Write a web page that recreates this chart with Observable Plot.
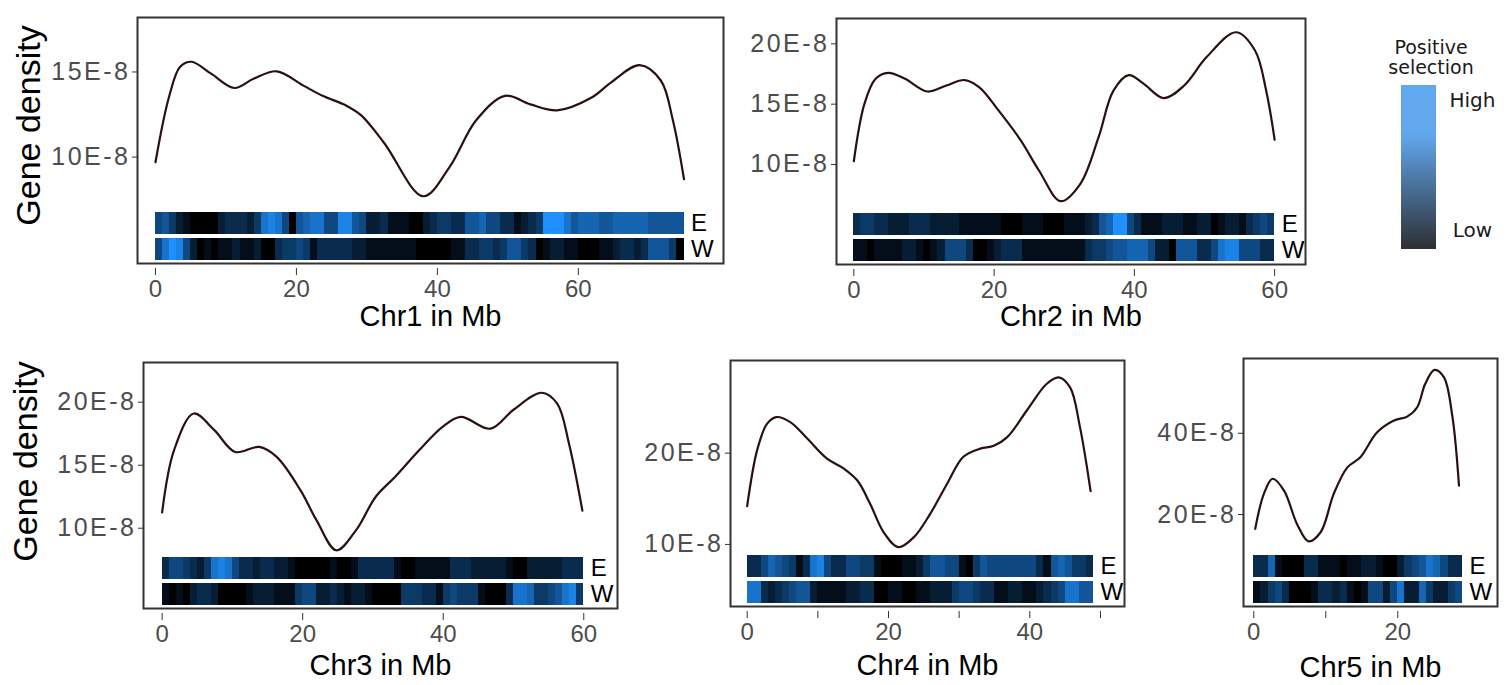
<!DOCTYPE html>
<html>
<head>
<meta charset="utf-8">
<script src="https://cdn.jsdelivr.net/npm/d3@7"></script>
<script src="https://cdn.jsdelivr.net/npm/@observablehq/plot@0.6"></script>
<style>
  body { margin: 0; background: #fff; }
  #root { position: relative; width: 1511px; height: 685px; overflow: hidden; background: #fff; }
  .panel { position: absolute; }
  .legend-line { position: absolute; font-family: "DejaVu Sans", sans-serif; font-size: 19px; line-height: 20px; height: 20px; text-align: center; color: #1a1a1a; white-space: nowrap; }
</style>
</head>
<body>
<div id="root"></div>
<script>
// ---------------- data (gene density in units of 1E-8, positions in Mb) ----------------
const chr1Pos = [0, 1.9, 3.5, 5.1, 7.9, 11.2, 13.9, 17.2, 21, 23.7, 27, 29.2, 32.5, 38, 41.7, 45.5, 49.6, 53.2, 57, 61.9, 64.7, 68.7, 71.7, 73.4, 75];
const chr1Density = [9.7, 13.5, 15.3, 15.6, 14.9, 14.06, 14.6, 15.04, 14.2, 13.6, 13.04, 12.45, 10.8, 7.7, 9.4, 12.16, 13.6, 13.1, 12.75, 13.5, 14.4, 15.4, 14.5, 12.2, 8.7];

const chr2Pos = [0, 1.5, 3.1, 4.9, 7.3, 10.5, 13.2, 15.8, 17.9, 20.6, 23.8, 26.4, 29.5, 32.3, 34.9, 37.0, 39.2, 41.3, 44.2, 47.1, 50.3, 54.5, 57.2, 58.8, 60];
const chr2Density = [10.27, 15.0, 17.1, 17.6, 17.1, 16.05, 16.55, 17.0, 16.4, 14.5, 12.0, 9.5, 6.96, 8.4, 12.26, 16.1, 17.4, 16.7, 15.5, 16.55, 18.9, 20.96, 19.45, 16.1, 12.05];

const chr3Pos = [0, 1.7, 4.5, 7.4, 10.4, 13.8, 16.3, 19.7, 22, 24.8, 27.6, 30.4, 33.2, 36.6, 39.9, 42.5, 46.7, 50, 54, 56.2, 57.9, 59.8];
const chr3Density = [11.25, 16.2, 19.1, 17.8, 16.05, 16.45, 15.66, 13.0, 10.6, 8.25, 9.85, 12.5, 14.1, 16.2, 18.05, 18.83, 17.9, 19.4, 20.75, 19.9, 16.7, 11.4];

const chr4Pos = [0, 1.4, 2.8, 4.1, 6.1, 8.5, 11.3, 13.7, 15.6, 17.4, 19.3, 21.4, 23.6, 25.9, 28.3, 30.6, 33, 34.9, 36.8, 39.6, 42.4, 44.1, 45.7, 47.1, 48.6];
const chr4Density = [14.2, 20.3, 23.2, 23.95, 23.4, 21.6, 19.4, 18.3, 17.0, 14.45, 11.35, 9.7, 10.8, 13.35, 16.65, 19.6, 20.5, 20.8, 21.75, 24.7, 27.6, 28.3, 27.2, 22.85, 15.85];

const chr5Pos = [0.2, 1.4, 2.6, 4.2, 6.0, 7.6, 9.3, 11.1, 13.0, 14.8, 17.1, 19.4, 21.3, 22.7, 23.8, 25.1, 26.4, 27.6, 28.5];
const chr5Density = [16.5, 25.1, 28.8, 25.9, 17.7, 13.4, 15.7, 25.1, 31.6, 34.1, 40.2, 43.1, 44.1, 46.4, 52.1, 55.6, 53.8, 43.9, 27.1];

// positive selection per 1-Mb bin (0 = low, 10 = high), E and W populations
const chr1E = [5,6,4,2,1,0,0,0,0,2,3,3,3,2,4,8,9,8,5,0,6,7,8,8,5,5,9,9,6,5,2,2,3,1,1,1,0,
               0,2,3,4,4,3,3,6,6,7,5,5,3,3,1,2,3,4,10,10,10,8,6,7,7,7,6,6,7,7,7,7,7,6,6,6,6,6];
const chr1W = [5,8,10,9,5,2,0,1,0,1,1,2,1,1,2,0,0,3,4,4,5,4,1,3,3,3,3,3,2,2,1,1,1,1,1,1,1,
               0,0,0,0,0,1,1,3,3,4,4,3,4,6,6,4,3,0,1,2,2,1,1,0,0,0,1,1,2,3,3,2,3,6,6,6,4,0];
const chr2E = [3,4,4,3,3,2,2,2,3,3,3,2,2,2,2,1,1,1,1,1,1,0,0,0,1,1,1,0,0,0,1,1,1,2,3,6,7,10,10,5,3,1,1,1,2,2,2,1,1,2,2,0,1,2,2,1,3,4,5,4];
const chr2W = [1,1,0,1,1,1,1,2,2,1,0,1,2,5,5,5,3,0,0,1,2,3,3,3,1,1,1,1,1,1,1,1,1,3,4,4,5,6,6,7,7,7,5,2,2,0,6,6,6,3,3,5,8,9,9,5,5,5,3,3];
const chr3E = [3,5,5,4,3,2,4,8,9,8,5,3,3,2,3,3,2,2,1,0,0,0,0,0,1,0,0,1,3,3,3,3,3,1,0,0,1,1,1,1,1,3,3,3,2,2,2,2,2,1,0,0,2,2,2,2,2,3,3,3];
const chr3W = [1,0,1,0,2,3,3,2,0,0,0,0,1,2,2,2,1,1,1,4,5,5,2,2,3,2,1,2,2,1,0,0,0,0,4,4,4,3,3,1,4,5,4,4,4,1,0,0,0,3,8,8,7,4,4,5,6,8,9,4];
const chr4E = [3,3,5,7,6,5,4,1,3,8,9,5,3,3,5,5,4,4,1,0,0,0,1,1,2,4,6,6,5,5,1,0,4,6,5,5,5,5,5,5,5,3,1,6,7,6,4,4,3];
const chr4W = [8,8,3,2,3,4,5,6,6,2,1,1,1,1,2,2,3,3,0,0,1,1,0,0,1,1,2,2,2,4,5,5,4,3,3,1,1,2,2,1,1,2,3,4,5,8,8,6,6];
const chr5E = [3,3,7,1,0,0,0,3,3,1,1,1,0,1,1,2,2,1,0,0,2,4,5,6,8,7,5,3,3];
const chr5W = [1,2,4,5,3,0,0,0,1,3,3,2,3,1,0,1,5,5,2,5,8,2,2,7,4,2,2,4,5];

const chromosomes = ["Chr1", "Chr2", "Chr3", "Chr4", "Chr5"];
const stripNames = ["E", "W"];
const legendTitle = ["Positive", "selection"];
const legendLabels = [{label: "High", at: 0.909}, {label: "Low", at: 0.116}];

// ---------------- layout ----------------
const FONT = '"Liberation Sans", Arial, Helvetica, sans-serif';
const selectionColor = {type: "linear", domain: [0, 10], range: ["#000000", "#1e90ff"]};

const panels = [
  {name: chromosomes[0], pos: chr1Pos, dens: chr1Density, E: chr1E, W: chr1W,
   frame: [137, 17, 723, 263], xDomain: [-2.55, 80.6], yDomain: [3.75, 18.2],
   xTicks: [0, 20, 40, 60], yTicks: [10, 15], yLabel: true, labelX: 29, labelY: 125, titleY: 316},
  {name: chromosomes[1], pos: chr2Pos, dens: chr2Density, E: chr2E, W: chr2W,
   frame: [836, 18, 1305, 264], xDomain: [-2.47, 64.4], yDomain: [1.71, 22.1],
   xTicks: [0, 20, 40, 60], yTicks: [10, 15, 20], yLabel: false, titleY: 316},
  {name: chromosomes[2], pos: chr3Pos, dens: chr3Density, E: chr3E, W: chr3W,
   frame: [143, 362, 617, 608], xDomain: [-2.65, 64.8], yDomain: [3.63, 23.15],
   xTicks: [0, 20, 40, 60], yTicks: [10, 15, 20], yLabel: true, labelX: 26, labelY: 461, titleY: 665},
  {name: chromosomes[3], pos: chr4Pos, dens: chr4Density, E: chr4E, W: chr4W,
   frame: [730, 360, 1124, 606], xDomain: [-2.36, 53.4], yDomain: [3.2, 30.15],
   xTicks: [0, 10, 20, 30, 40, 50], yTicks: [10, 20], yLabel: false, titleY: 665},
  {name: chromosomes[4], pos: chr5Pos, dens: chr5Density, E: chr5E, W: chr5W,
   frame: [1243, 358, 1497, 606], xDomain: [-1.43, 33.85], yDomain: [-2.63, 58.4],
   xTicks: [0, 10, 20], yTicks: [20, 40], yLabel: false, titleY: 667},
];

const root = document.getElementById("root");

function place(el, left, top) {
  const wrap = document.createElement("div");
  wrap.className = "panel";
  wrap.style.left = left + "px";
  wrap.style.top = top + "px";
  wrap.appendChild(el);
  root.appendChild(wrap);
  return wrap;
}

for (const p of panels) {
  const [fx0, fy0, fx1, fy1] = p.frame;
  const fw = fx1 - fx0, fh = fy1 - fy0;
  const mL = p.yLabel ? fx0 - 2 : 110, mR = 6, mT = 8, mB = 78;
  const [d0, d1] = p.yDomain;
  const yAt = (px) => d0 + px / fh * (d1 - d0); // pixel offset above frame bottom -> data units
  const strips = {E: [yAt(29.5), yAt(51.5)], W: [yAt(3.5), yAt(25.5)]};
  const len = p.E.length;

  const cells = [];
  for (const s of stripNames) {
    p[s].forEach((v, i) => cells.push({start: i, end: i + 1, v, lo: strips[s][0], hi: strips[s][1]}));
  }
  const curve = p.pos.map((x, i) => ({x, y: p.dens[i]}));
  const stripLabels = stripNames.map(s => ({x: len, y: (strips[s][0] + strips[s][1]) / 2, t: s}));

  const marks = [
    Plot.rect(cells, {x1: "start", x2: "end", y1: "lo", y2: "hi", fill: "v", shapeRendering: "crispEdges"}),
    Plot.line(curve, {x: "x", y: "y", curve: "catmull-rom", stroke: "#2b1010", strokeWidth: 2.2}),
    Plot.text(stripLabels, {x: "x", y: "y", text: "t", dx: 7, textAnchor: "start", fontSize: 24, fill: "#000"}),
    Plot.axisY({ticks: p.yTicks, tickFormat: d => d + "E-8", tickSize: 5, tickPadding: 2,
                fontSize: 25, fill: "#4d4d4d", stroke: "#333", label: null}),
    Plot.axisX({ticks: p.xTicks, tickFormat: d => (d % 20 === 0 ? String(d) : ""), tickSize: 7, tickPadding: 4, dy: 5,
                fontSize: 24, fill: "#4d4d4d", stroke: "#333", label: null}),
    Plot.frame({stroke: "#333", strokeWidth: 2}),
    Plot.text([p.name + " in Mb"], {frameAnchor: "bottom", dy: p.titleY - fy1, lineAnchor: "middle",
                fontSize: 29, fill: "#000"})
  ];
  if (p.yLabel) {
    marks.push(Plot.text(["Gene density"], {frameAnchor: "left", rotate: -90, lineAnchor: "middle", textAnchor: "middle",
      dx: p.labelX - fx0, dy: p.labelY - (fy0 + fh / 2), fontSize: 34, fill: "#000"}));
  }

  const chart = Plot.plot({
    width: mL + fw + mR,
    height: mT + fh + mB,
    marginLeft: mL, marginRight: mR, marginTop: mT, marginBottom: mB,
    style: {background: "transparent", fontFamily: FONT, overflow: "visible"},
    x: {domain: p.xDomain, label: null},
    y: {domain: p.yDomain, label: null},
    color: selectionColor,
    marks
  });
  place(chart, fx0 - mL, fy0 - mT);

  // y tick labels in the reference are drawn slightly wide
  chart.querySelectorAll('g[aria-label="y-axis tick label"] text').forEach(t => {
    t.setAttribute("letter-spacing", "2.5px");
  });
}

// ---------------- legend ----------------
legendTitle.forEach((line, i) => {
  const div = document.createElement("div");
  div.className = "legend-line";
  div.style.left = "1371px";
  div.style.top = (37 + i * 20) + "px";
  div.style.width = "120px";
  div.textContent = line;
  root.appendChild(div);
});

const levels = d3.range(0, 1, 0.01);
const legend = Plot.plot({
  width: 110, height: 164,
  marginLeft: 0, marginRight: 75, marginTop: 0, marginBottom: 0,
  style: {background: "transparent", overflow: "visible"},
  x: {axis: null},
  y: {domain: [0, 1], axis: null},
  color: {type: "linear", domain: [0, 0.7, 1], range: ["#2e3034", "#62a8ef", "#62a8ef"]},
  marks: [
    Plot.rect(levels, {y1: d => d, y2: d => d + 0.0105, fill: d => d, shapeRendering: "crispEdges"}),
    Plot.text(legendLabels, {frameAnchor: "right", y: "at", text: "label", dx: 36, textAnchor: "middle",
      fontFamily: "DejaVu Sans", fontSize: 20, fill: "#1a1a1a"})
  ]
});
place(legend, 1401, 85);
</script>
</body>
</html>
